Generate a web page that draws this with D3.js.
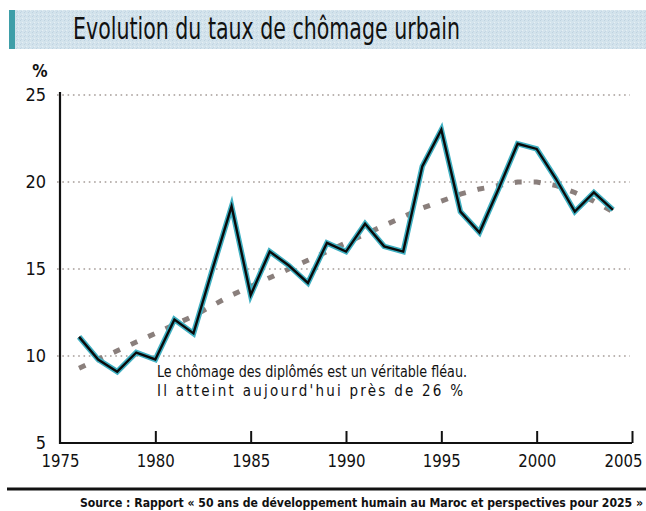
<!DOCTYPE html>
<html><head><meta charset="utf-8">
<script src="https://cdn.jsdelivr.net/npm/d3@7/dist/d3.min.js"></script>
<style>body{margin:0;background:#fff}svg{display:block}</style>
</head><body>
<script>
const years = d3.range(1976, 2005);
const unemployment = [11.1, 9.8, 9.1, 10.2, 9.8, 12.1, 11.3, 15.0, 18.6, 13.5, 16.0, 15.2, 14.2, 16.5, 16.0, 17.6, 16.3, 16.0, 20.9, 23.0, 18.3, 17.1, 19.6, 22.2, 21.9, 20.2, 18.3, 19.4, 18.4];
const trend = [9.3, 9.8, 10.3, 10.8, 11.3, 11.8, 12.3, 12.9, 13.5, 14.0, 14.5, 15.0, 15.5, 16.0, 16.5, 17.0, 17.5, 18.0, 18.5, 18.9, 19.3, 19.6, 19.8, 20.0, 20.0, 19.8, 19.4, 18.9, 18.3];
const yTicks = [5, 10, 15, 20, 25];
const xTicks = [1975, 1980, 1985, 1990, 1995, 2000, 2005];
const title = "Evolution du taux de chômage urbain";
const note = ["Le chômage des diplômés est un véritable fléau.", "Il atteint aujourd'hui près de 26 %"];
const source = "Source : Rapport « 50 ans de développement humain au Maroc et perspectives pour 2025 »";

const W = 646, H = 511;
const svg = d3.select("body").append("svg").attr("width", W).attr("height", H);
const narrow = "'Liberation Sans Narrow','DejaVu Sans Condensed','Arial Narrow',sans-serif";

// title bar
const defs = svg.append("defs");
const pat = defs.append("pattern").attr("id","noise").attr("width",4).attr("height",4).attr("patternUnits","userSpaceOnUse");
pat.append("rect").attr("width",4).attr("height",4).attr("fill","#d3e3ec");
pat.append("rect").attr("x",0).attr("y",0).attr("width",1).attr("height",1).attr("fill","#bfd3e0");
pat.append("rect").attr("x",2).attr("y",2).attr("width",1).attr("height",1).attr("fill","#e6eff3");
pat.append("rect").attr("x",1).attr("y",3).attr("width",1).attr("height",1).attr("fill","#c4d6e4");
svg.append("rect").attr("x",9).attr("y",10).attr("width",W-9).attr("height",39).attr("fill","url(#noise)");
svg.append("rect").attr("x",9).attr("y",10).attr("width",6).attr("height",39).attr("fill","#3e9ea8");
svg.append("text").attr("x",73).attr("y",39).attr("font-family",narrow).attr("font-size",31)
  .attr("textLength",387).attr("lengthAdjust","spacingAndGlyphs").attr("fill","#111").text(title);

const x = d3.scaleLinear().domain([1975, 2005]).range([60, 632]);
const y = d3.scaleLinear().domain([5, 25]).range([443, 95]);

// gridlines
svg.append("g").selectAll("line").data(yTicks.filter(d => d > 5)).join("line")
  .attr("x1", 57).attr("x2", 630).attr("y1", d => y(d)).attr("y2", d => y(d))
  .attr("stroke", "#a59c98").attr("stroke-width", 1.6).attr("stroke-dasharray", "1.6,3.7");

// y tick labels
svg.append("g").selectAll("text").data(yTicks).join("text")
  .attr("x", 46).attr("y", d => y(d) + 6).attr("text-anchor", "end")
  .attr("font-family", narrow).attr("font-size", 18).attr("fill", "#111").text(d => d);
svg.append("text").attr("x", 40).attr("y", 77).attr("text-anchor", "middle")
  .attr("font-family", narrow).attr("font-size", 17).attr("font-weight","bold").attr("fill", "#111").text("%");

// x axis
const xAxis = d3.axisBottom(x).tickValues(xTicks).tickSize(-12).tickPadding(11).tickFormat(d3.format("d"));
const gx = svg.append("g").attr("transform", `translate(0,${y(5)})`).call(xAxis);
gx.select(".domain").attr("stroke", "#111").attr("stroke-width", 2.2).attr("d", `M60,0H632`);
gx.selectAll(".tick line").attr("stroke", "#111").attr("stroke-width", 2);
gx.selectAll(".tick").filter(d => d === 1975).select("line").remove();
gx.selectAll(".tick text").attr("font-family", narrow).attr("font-size", 18).attr("fill", "#111")
  .attr("textLength", 38).attr("lengthAdjust", "spacingAndGlyphs");
gx.selectAll(".tick").filter(d => d === 2005).select("text")
  .attr("text-anchor", "end").attr("x", 10);
// y axis line
svg.append("line").attr("x1", 60).attr("x2", 60).attr("y1", 92).attr("y2", y(5) + 1)
  .attr("stroke", "#111").attr("stroke-width", 2.2);

// trend
const line = d3.line().x((d, i) => x(years[i])).y(d => y(d));
svg.append("path").datum(trend).attr("d", line).attr("fill", "none")
  .attr("stroke", "#8a7f7c").attr("stroke-width", 5).attr("stroke-dasharray", "7,12");

// main line
svg.append("path").datum(unemployment).attr("d", line).attr("fill", "none")
  .attr("stroke", "#3fb0c2").attr("stroke-width", 5.5).attr("stroke-linejoin", "miter");
svg.append("path").datum(unemployment).attr("d", line).attr("fill", "none")
  .attr("stroke", "#0a0a0a").attr("stroke-width", 2.4).attr("stroke-linejoin", "miter");

// note
svg.append("g").selectAll("text").data(note).join("text")
  .attr("x", 157).attr("y", (d, i) => 377 + i * 19)
  .attr("textLength", (d, i) => i === 0 ? 310 : 306)
  .attr("lengthAdjust", (d, i) => i === 0 ? "spacingAndGlyphs" : "spacing")
  .attr("font-family", narrow).attr("font-size", 15).attr("fill", "#111").text(d => d);

// bottom rule + source
svg.append("rect").attr("x", 7).attr("y", 487.5).attr("width", W - 7).attr("height", 3).attr("fill", "#111");
svg.append("text").attr("x", 80).attr("y", 507).attr("font-family", narrow).attr("font-size", 12)
  .attr("font-weight", "bold").attr("textLength", 563).attr("lengthAdjust", "spacingAndGlyphs")
  .attr("fill", "#111").text(source);
</script>
</body></html>
